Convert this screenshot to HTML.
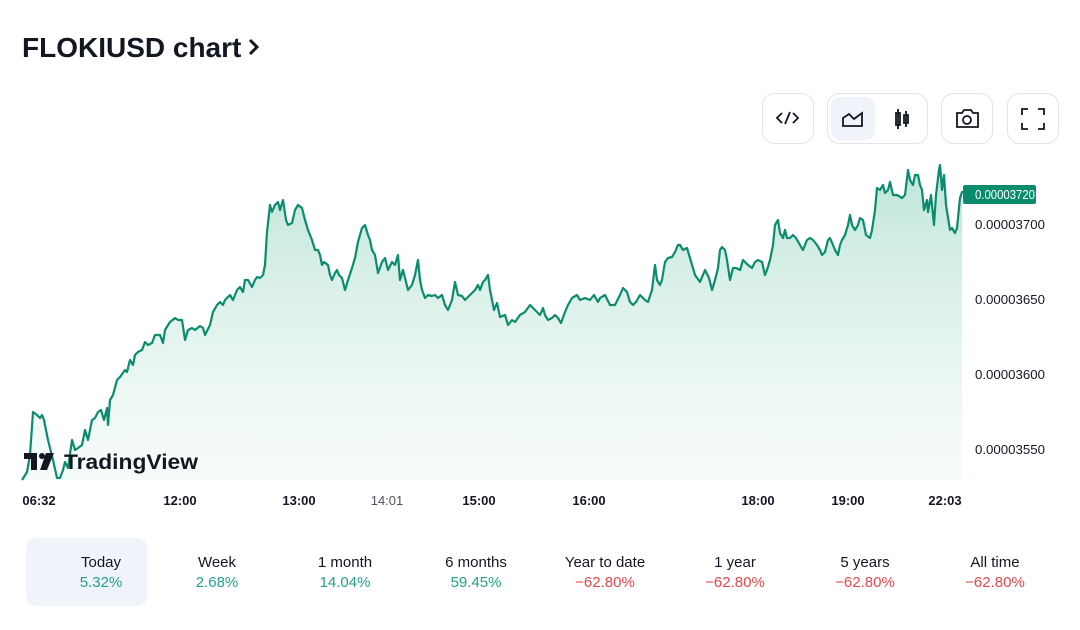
<!DOCTYPE html>
<html><head><meta charset="utf-8"><style>
body{margin:0;background:#fff;width:1080px;height:625px;overflow:hidden;font-family:"Liberation Sans",sans-serif}
</style></head><body>
<svg width="1080" height="625" viewBox="0 0 1080 625" xmlns="http://www.w3.org/2000/svg" font-family="Liberation Sans, sans-serif">
<defs>
<linearGradient id="g" x1="0" y1="0" x2="0" y2="1">
<stop offset="0" stop-color="#a8dccb" stop-opacity="0.75"/>
<stop offset="1" stop-color="#e4f4ef" stop-opacity="0.3"/>
</linearGradient>
</defs>
<text x="22" y="57" font-size="28" font-weight="bold" fill="#131722">FLOKIUSD chart</text>
<path d="M250 40 L257 47 L250 54" stroke="#131722" stroke-width="3" fill="none"/>
<g fill="none" stroke="#e0e3eb" stroke-width="1">
<rect x="762.5" y="93.5" width="51" height="50" rx="12"/>
<rect x="827.5" y="93.5" width="100" height="50" rx="12"/>
<rect x="941.5" y="93.5" width="51" height="50" rx="12"/>
<rect x="1007.5" y="93.5" width="51" height="50" rx="12"/>
</g>
<rect x="831" y="97" width="44" height="43" rx="9" fill="#f0f3fa"/>
<g stroke="#131722" stroke-width="1.8" fill="none">
<path d="M782 113 L777 118 L782 123 M793 113 L798 118 L793 123 M790 112 L785 124"/>
<path d="M843 126 L843 118 L849 114 L854 119 L862 113 L862 126 Z"/>
<path d="M898 109 V129 M898 113 h-2 v12 h4 v-12 z M906 111 V127 M904 115 h4 v8 h-4 z"/>
<path d="M957 113 h5 l2 -3 h7 l2 3 h5 v14 h-21 z"/><circle cx="967" cy="120" r="4"/>
<path d="M1022 115 v-6 h6 M1038 109 h6 v6 M1044 123 v6 h-6 M1028 129 h-6 v-6"/>
</g>
<path fill="url(#g)" d="M22,480 L27,472 30,455 33,412 37,415 40,418 42,415 44,420 48,440 53,460 57,478 60,478 63,470 65,462 68,468 72,440 75,450 78,448 82,445 85,430 88,440 92,420 95,418 98,412 101,410 104,420 107,408 108,425 110,400 113,395 117,380 120,377 125,370 127,372 130,360 133,365 135,355 138,352 142,350 145,342 148,345 152,343 155,335 160,335 163,343 165,330 170,322 175,318 178,320 182,320 185,340 188,330 192,328 195,330 200,326 203,328 205,335 210,325 213,312 217,305 220,302 223,305 225,300 230,295 233,300 237,290 240,287 243,292 245,280 248,280 252,287 255,280 257,277 260,278 263,275 265,265 267,232 270,205 272,212 275,205 278,202 280,210 283,200 286,220 288,225 292,223 295,210 298,205 302,208 305,220 308,230 312,240 315,250 318,250 320,255 322,265 324,262 328,265 330,275 332,280 335,273 337,270 339,275 342,278 345,290 348,280 352,268 355,258 358,242 362,228 365,225 368,235 370,240 372,250 375,255 378,273 382,262 385,258 388,270 392,262 395,265 398,255 400,280 403,270 405,278 408,290 412,285 415,275 418,260 420,280 422,290 425,298 428,295 432,296 435,295 438,298 442,295 445,305 448,310 452,300 455,282 458,295 462,296 465,300 470,295 475,290 478,285 480,290 483,282 485,280 488,275 490,290 492,300 494,310 497,303 500,317 505,315 508,325 512,320 515,322 520,315 525,312 530,305 535,310 540,315 543,308 545,315 548,320 552,318 555,315 558,318 561,323 565,312 568,305 572,298 577,295 580,300 585,298 590,300 594,295 598,302 600,298 605,295 610,305 615,305 620,295 623,288 627,292 630,302 633,305 636,302 640,295 645,300 648,302 652,290 655,265 657,280 660,285 662,280 665,262 668,258 672,257 675,252 678,245 680,245 683,250 687,248 690,258 695,275 700,282 705,270 709,278 712,290 715,280 718,268 720,250 722,247 725,250 727,260 730,280 733,268 736,268 740,270 743,260 748,265 752,268 755,262 758,260 762,262 765,275 767,270 770,260 773,245 775,225 778,220 780,233 783,238 785,230 787,238 790,238 793,235 796,238 800,245 803,250 807,240 810,238 813,240 817,245 820,250 822,255 825,252 828,240 830,238 833,245 835,250 838,255 840,245 842,240 845,235 848,225 850,215 852,225 855,230 858,225 860,218 863,220 866,235 870,238 872,230 875,210 877,188 880,190 883,185 885,193 888,190 890,182 893,195 897,195 902,198 905,195 908,170 910,180 913,185 915,175 918,175 920,185 922,190 924,210 927,200 928,212 931,195 934,225 936,195 939,170 940,165 942,190 944,175 946,205 950,230 952,228 955,233 957,228 958,218 960,198 962,192 L962,480 L22,480 Z"/>
<path fill="none" stroke="#0b8c6f" stroke-width="2.2" stroke-linejoin="round" d="M22,480 L27,472 30,455 33,412 37,415 40,418 42,415 44,420 48,440 53,460 57,478 60,478 63,470 65,462 68,468 72,440 75,450 78,448 82,445 85,430 88,440 92,420 95,418 98,412 101,410 104,420 107,408 108,425 110,400 113,395 117,380 120,377 125,370 127,372 130,360 133,365 135,355 138,352 142,350 145,342 148,345 152,343 155,335 160,335 163,343 165,330 170,322 175,318 178,320 182,320 185,340 188,330 192,328 195,330 200,326 203,328 205,335 210,325 213,312 217,305 220,302 223,305 225,300 230,295 233,300 237,290 240,287 243,292 245,280 248,280 252,287 255,280 257,277 260,278 263,275 265,265 267,232 270,205 272,212 275,205 278,202 280,210 283,200 286,220 288,225 292,223 295,210 298,205 302,208 305,220 308,230 312,240 315,250 318,250 320,255 322,265 324,262 328,265 330,275 332,280 335,273 337,270 339,275 342,278 345,290 348,280 352,268 355,258 358,242 362,228 365,225 368,235 370,240 372,250 375,255 378,273 382,262 385,258 388,270 392,262 395,265 398,255 400,280 403,270 405,278 408,290 412,285 415,275 418,260 420,280 422,290 425,298 428,295 432,296 435,295 438,298 442,295 445,305 448,310 452,300 455,282 458,295 462,296 465,300 470,295 475,290 478,285 480,290 483,282 485,280 488,275 490,290 492,300 494,310 497,303 500,317 505,315 508,325 512,320 515,322 520,315 525,312 530,305 535,310 540,315 543,308 545,315 548,320 552,318 555,315 558,318 561,323 565,312 568,305 572,298 577,295 580,300 585,298 590,300 594,295 598,302 600,298 605,295 610,305 615,305 620,295 623,288 627,292 630,302 633,305 636,302 640,295 645,300 648,302 652,290 655,265 657,280 660,285 662,280 665,262 668,258 672,257 675,252 678,245 680,245 683,250 687,248 690,258 695,275 700,282 705,270 709,278 712,290 715,280 718,268 720,250 722,247 725,250 727,260 730,280 733,268 736,268 740,270 743,260 748,265 752,268 755,262 758,260 762,262 765,275 767,270 770,260 773,245 775,225 778,220 780,233 783,238 785,230 787,238 790,238 793,235 796,238 800,245 803,250 807,240 810,238 813,240 817,245 820,250 822,255 825,252 828,240 830,238 833,245 835,250 838,255 840,245 842,240 845,235 848,225 850,215 852,225 855,230 858,225 860,218 863,220 866,235 870,238 872,230 875,210 877,188 880,190 883,185 885,193 888,190 890,182 893,195 897,195 902,198 905,195 908,170 910,180 913,185 915,175 918,175 920,185 922,190 924,210 927,200 928,212 931,195 934,225 936,195 939,170 940,165 942,190 944,175 946,205 950,230 952,228 955,233 957,228 958,218 960,198 962,192 966,192"/>
<g fill="#131722">
<path d="M24 453 h13 v17 h-6 v-11 h-7 z"/><circle cx="42" cy="456" r="3"/><path d="M46 453 h8 l-7 17 h-7 z"/>
</g>
<text x="64" y="469" font-size="21" font-weight="bold" fill="#131722" textLength="134" lengthAdjust="spacingAndGlyphs">TradingView</text>
<g font-size="13" fill="#131722">
<text x="975" y="229" textLength="70" lengthAdjust="spacingAndGlyphs">0.00003700</text>
<text x="975" y="304" textLength="70" lengthAdjust="spacingAndGlyphs">0.00003650</text>
<text x="975" y="379" textLength="70" lengthAdjust="spacingAndGlyphs">0.00003600</text>
<text x="975" y="454" textLength="70" lengthAdjust="spacingAndGlyphs">0.00003550</text>
</g>
<rect x="963" y="185" width="73" height="19" rx="2" fill="#0b8c6f"/>
<text x="975" y="199" font-size="13" fill="#fff" textLength="60" lengthAdjust="spacingAndGlyphs">0.00003720</text>
<g font-size="13" fill="#131722" font-weight="bold" text-anchor="middle">
<text x="39" y="505">06:32</text>
<text x="180" y="505">12:00</text>
<text x="299" y="505">13:00</text>
<text x="387" y="505" font-weight="normal" fill="#50535e">14:01</text>
<text x="479" y="505">15:00</text>
<text x="589" y="505">16:00</text>
<text x="758" y="505">18:00</text>
<text x="848" y="505">19:00</text>
<text x="945" y="505">22:03</text>
</g>
<rect x="26" y="538" width="121" height="68" rx="10" fill="#f0f3fa"/>
<g font-size="15" text-anchor="middle">
<g fill="#131722">
<text x="101" y="567">Today</text><text x="217" y="567">Week</text><text x="345" y="567">1 month</text><text x="476" y="567">6 months</text>
<text x="605" y="567">Year to date</text><text x="735" y="567">1 year</text><text x="865" y="567">5 years</text><text x="995" y="567">All time</text>
</g>
<g fill="#22a08a">
<text x="101" y="587">5.32%</text><text x="217" y="587">2.68%</text><text x="345" y="587">14.04%</text><text x="476" y="587">59.45%</text>
</g>
<g fill="#e5484d">
<text x="605" y="587">−62.80%</text><text x="735" y="587">−62.80%</text><text x="865" y="587">−62.80%</text><text x="995" y="587">−62.80%</text>
</g>
</g>
</svg>
</body></html>
